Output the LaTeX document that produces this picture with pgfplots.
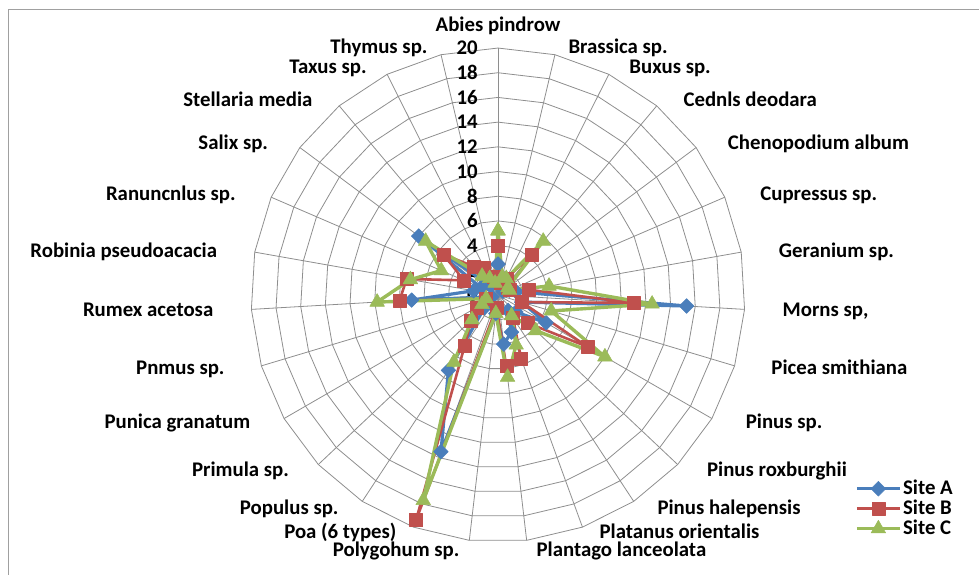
\documentclass[border=0pt]{standalone}
\usepackage{pgfplots}
\pgfplotsset{compat=1.18}
\usepackage{pgfplotstable}
\usepackage{fontspec}
\setmainfont{Carlito}

\definecolor{siteA}{HTML}{4A7EBB}
\definecolor{siteB}{HTML}{C0504D}
\definecolor{siteC}{HTML}{9BBB59}
\definecolor{gridc}{HTML}{8E8E8E}
\definecolor{framec}{HTML}{A0A0A0}

\newcommand\labfont{\fontsize{20.8}{24}\selectfont\bfseries}

% species index k (clockwise from the top) and counts at the three sites;
% the last row repeats the first one so that each polygon closes
\pgfplotstableread{
k  A     B     C
0  2.5   4     5.2
1  1     1     1.5
2  1     1.5   1.5
3  1     4.3   5.7
4  0.5   1     1
5  1     1     1
6  1.5   2.5   4.2
7  15.3  11    12.5
8  2     2     4.5
9  4.5   8.4   10
10 2     3.3   4.2
11 1.5   2.2   2
12 3.2   5.5   4.3
13 4     5.8   6.7
14 1.5   1     1.5
15 13.5  19.4  17.7
16 7.3   4.9   6.5
17 1.5   3     2.9
18 1     2     1.5
19 0.5   1     1
20 7     8     9.8
21 2     7.5   7.2
22 1.5   3     5
23 8     5.5   7.3
24 1     3     2
25 1     2.5   1.5
26 1     1.5   1
27 2.5   4     5.2
}\abundance

% category name at the end of spoke #1 (centre 498/280, radius 247);
% #3 is an extra vertical nudge
\newcommand{\catlabel}[3][0]{%
  \pgfmathsetmacro\th{90-#2*360/27}%
  \pgfmathsetmacro\cx{cos(\th)}%
  \pgfmathsetmacro\sy{sin(\th)}%
  \pgfmathsetmacro\gx{6+32*abs(\cx)}%
  \pgfmathsetmacro\py{280+255*\sy-6.5+#1}%
  \ifdim\cx pt>0pt
    \pgfmathsetmacro\px{498+247*\cx+\gx}\def\an{base west}%
  \else
    \pgfmathsetmacro\px{498+247*\cx-\gx}\def\an{base east}%
  \fi
  \node[anchor=\an, inner sep=0pt, font=\labfont] at (\px,\py) {#3};%
}

\begin{document}
\begin{tikzpicture}[x=1pt,y=1pt]
\useasboundingbox (0,0) rectangle (979,575);
\begin{axis}[
  at={(0,0)}, anchor=south west,
  scale only axis, width=979pt, height=575pt,
  xmin=-40.32, xmax=38.95, ymin=-22.67, ymax=23.89,
  hide axis, clip=false,
  legend style={at={(0.8733,0.166)}, anchor=north west, draw=none, fill=none,
    inner sep=0pt, font=\labfont, row sep=2pt,
    nodes={inner sep=1.5pt, text height=13pt, text depth=2pt}},
  legend cell align=left,
  legend image code/.code={%
    \draw[mark repeat=2,mark phase=2,#1] plot coordinates {(0pt,0pt) (21.5pt,0pt) (43pt,0pt)};},
]
% polygonal rings every 2 units
\pgfplotsinvokeforeach{2,4,...,20}{
  \addplot[gridc, line width=0.8pt, domain=0:27, samples=28, variable=\t, no marks, forget plot]
    ({#1*cos(90-\t*360/27)}, {#1*sin(90-\t*360/27)});
}
% one spoke per species
\pgfplotsinvokeforeach{0,...,26}{
  \addplot[gridc, line width=0.8pt, domain=0:20, samples=2, no marks, forget plot]
    ({x*cos(90-#1*360/27)}, {x*sin(90-#1*360/27)});
}
% radial scale
\pgfplotsinvokeforeach{0,2,...,20}{
  \node[anchor=east, inner sep=0pt, font=\labfont] at (axis cs:-1.62,#1) {#1};
}

\addplot[siteA, line width=3.2pt, line join=round, mark=square*, mark size=5.2pt,
  mark options={rotate=45, line width=0.5pt, fill=siteA}]
  table[x expr={\thisrow{A}*cos(90-\thisrow{k}*360/27)},
        y expr={\thisrow{A}*sin(90-\thisrow{k}*360/27)}] {\abundance};
\addlegendentry{Site A}
\addplot[siteB, line width=2.6pt, line join=round, mark=square*, mark size=6.5pt,
  mark options={line width=0.5pt, fill=siteB}]
  table[x expr={\thisrow{B}*cos(90-\thisrow{k}*360/27)},
        y expr={\thisrow{B}*sin(90-\thisrow{k}*360/27)}] {\abundance};
\addlegendentry{Site B}
\addplot[siteC, line width=3.4pt, line join=round, mark=triangle*, mark size=8.5pt,
  mark options={line width=0.5pt, fill=siteC}]
  table[x expr={\thisrow{C}*cos(90-\thisrow{k}*360/27)},
        y expr={\thisrow{C}*sin(90-\thisrow{k}*360/27)}] {\abundance};
\addlegendentry{Site C}
\end{axis}

% chart area frame
\draw[framec, line width=0.8pt] (8,0) -- (8,566) -- (979,566);

% category names
\node[anchor=base, inner sep=0pt, font=\labfont] at (498,543.5) {Abies pindrow};
\catlabel{1}{Brassica sp.}
\catlabel{2}{Buxus sp.}
\catlabel{3}{Cednls deodara}
\catlabel{4}{Chenopodium album}
\catlabel{5}{Cupressus sp.}
\catlabel{6}{Geranium sp.}
\catlabel{7}{Morns sp,}
\catlabel{8}{Picea smithiana}
\catlabel{9}{Pinus sp.}
\catlabel{10}{Pinus roxburghii}
\catlabel{11}{Pinus halepensis}
\catlabel[3]{12}{Platanus orientalis}
\catlabel[-2]{13}{Plantago lanceolata}
\catlabel[-2]{14}{Polygohum sp.}
\catlabel[3]{15}{Poa (6 types)}
\catlabel{16}{Populus sp.}
\catlabel{17}{Primula sp.}
\catlabel{18}{Punica granatum}
\catlabel{19}{Pnmus sp.}
\catlabel{20}{Rumex acetosa}
\catlabel{21}{Robinia pseudoacacia}
\catlabel{22}{Ranuncnlus sp.}
\catlabel{23}{Salix sp.}
\catlabel{24}{Stellaria media}
\catlabel{25}{Taxus sp.}
\catlabel{26}{Thymus sp.}
\end{tikzpicture}
\end{document}
